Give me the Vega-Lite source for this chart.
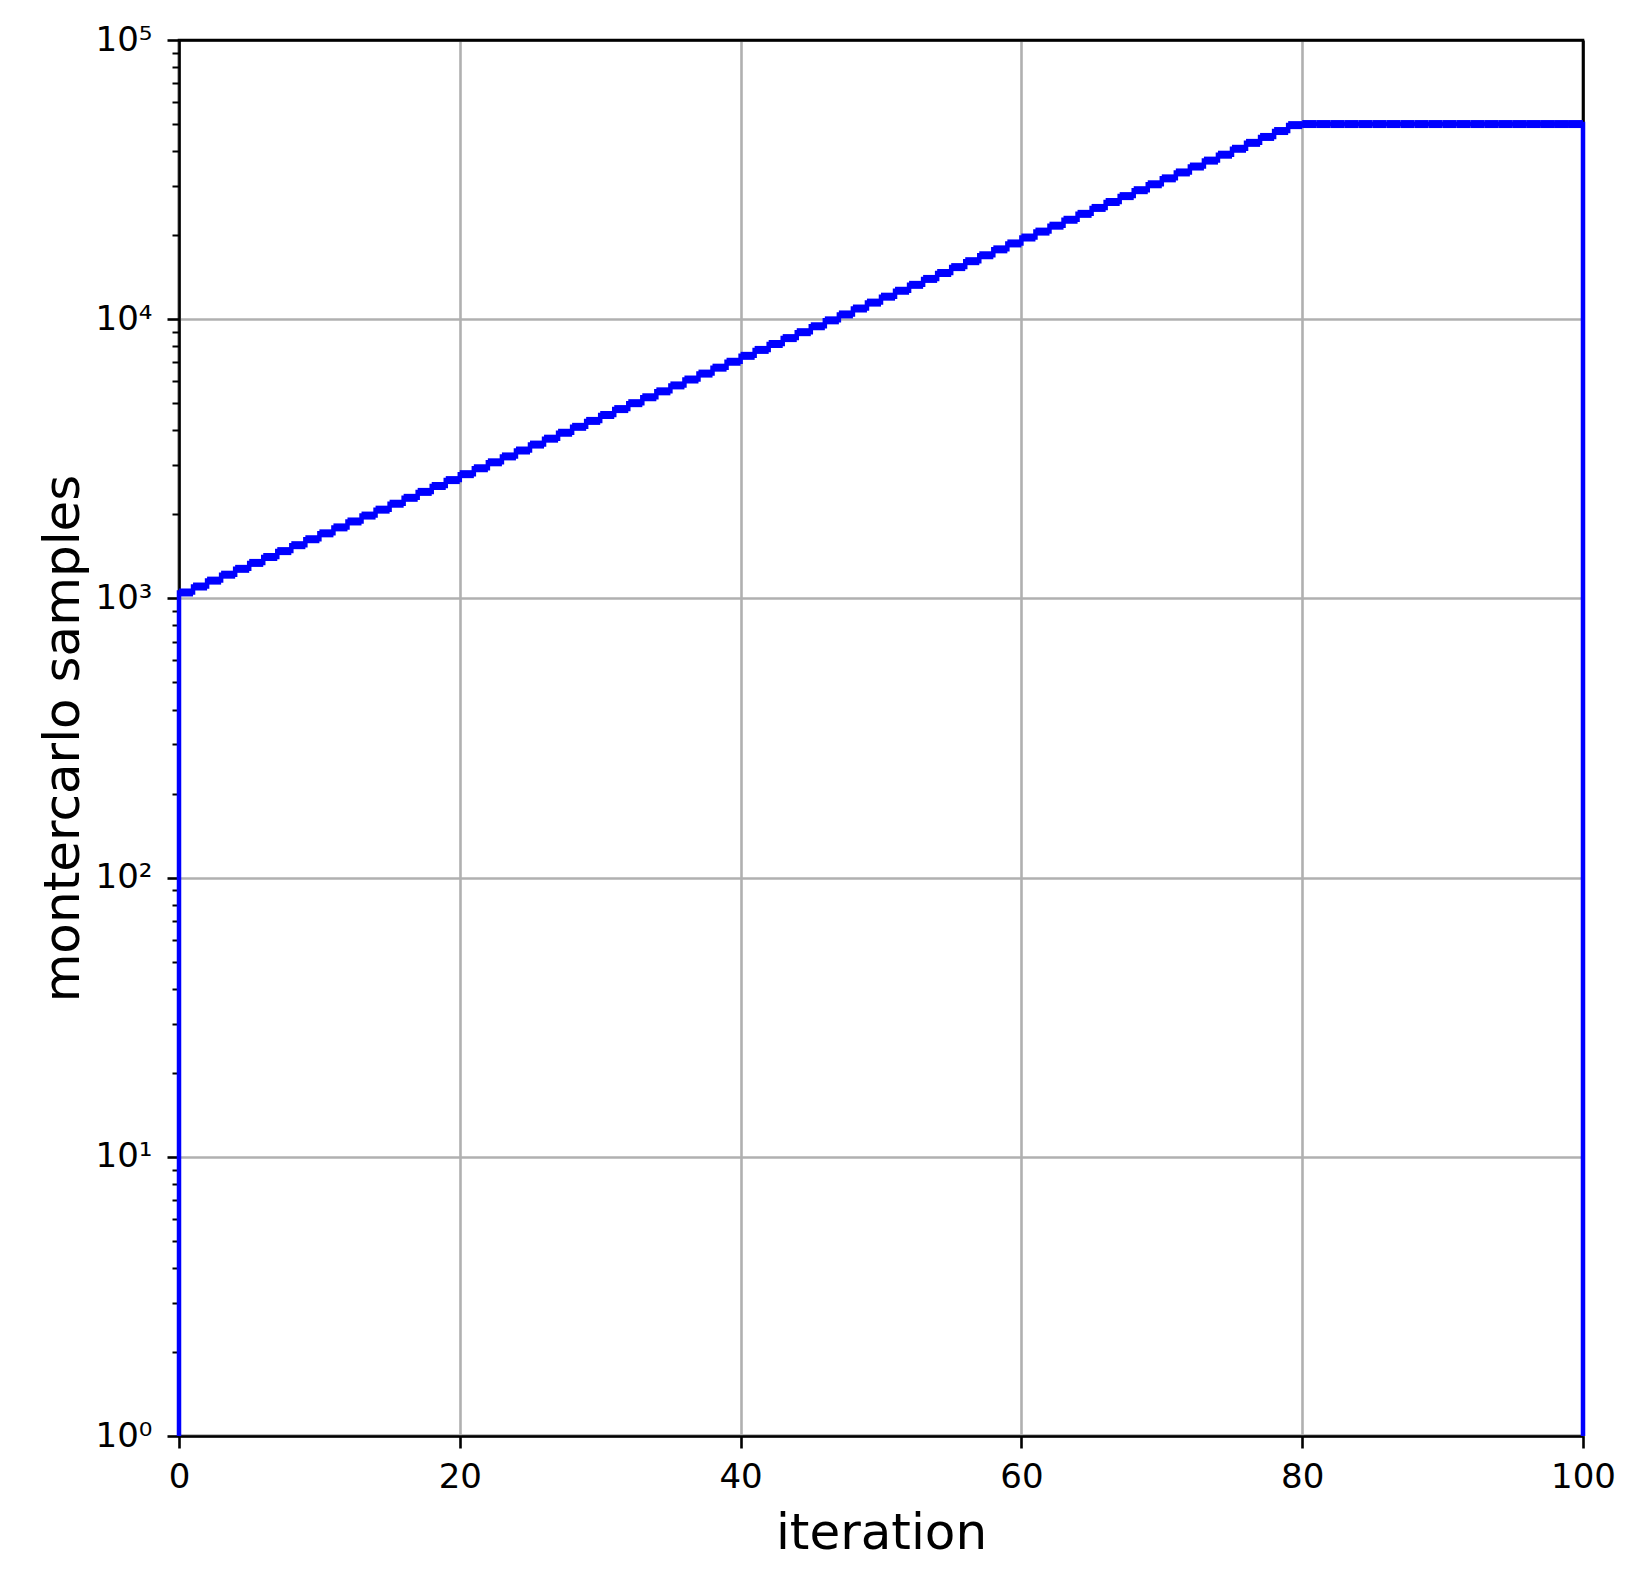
{
  "$schema": "https://vega.github.io/schema/vega-lite/v6.json",
  "width": 1404,
  "height": 1396,
  "autosize": {"type": "none"},
  "padding": {"left": 179, "top": 40, "right": 61, "bottom": 149},
  "background": "white",
  "config": {
    "font": "DejaVu Sans",
    "view": {"stroke": "black", "strokeWidth": 2.6},
    "axis": {
      "labelFont": "DejaVu Sans",
      "titleFont": "DejaVu Sans",
      "labelColor": "black",
      "titleColor": "black",
      "domainColor": "black",
      "domainWidth": 2.6,
      "tickColor": "black",
      "gridWidth": 2.6,
      "gridOpacity": 1,
      "titleFontWeight": "normal"
    }
  },
  "datasets": {
    "bins": [
      {"i": 0, "end": 1, "v": 1050}, {"i": 1, "end": 2, "v": 1103}, {"i": 2, "end": 3, "v": 1158}, {"i": 3, "end": 4, "v": 1216},
      {"i": 4, "end": 5, "v": 1276}, {"i": 5, "end": 6, "v": 1340}, {"i": 6, "end": 7, "v": 1407}, {"i": 7, "end": 8, "v": 1477},
      {"i": 8, "end": 9, "v": 1551}, {"i": 9, "end": 10, "v": 1629}, {"i": 10, "end": 11, "v": 1710}, {"i": 11, "end": 12, "v": 1796},
      {"i": 12, "end": 13, "v": 1886}, {"i": 13, "end": 14, "v": 1980}, {"i": 14, "end": 15, "v": 2079}, {"i": 15, "end": 16, "v": 2183},
      {"i": 16, "end": 17, "v": 2292}, {"i": 17, "end": 18, "v": 2407}, {"i": 18, "end": 19, "v": 2527}, {"i": 19, "end": 20, "v": 2653},
      {"i": 20, "end": 21, "v": 2786}, {"i": 21, "end": 22, "v": 2925}, {"i": 22, "end": 23, "v": 3072}, {"i": 23, "end": 24, "v": 3225},
      {"i": 24, "end": 25, "v": 3386}, {"i": 25, "end": 26, "v": 3556}, {"i": 26, "end": 27, "v": 3733}, {"i": 27, "end": 28, "v": 3920},
      {"i": 28, "end": 29, "v": 4116}, {"i": 29, "end": 30, "v": 4322}, {"i": 30, "end": 31, "v": 4538}, {"i": 31, "end": 32, "v": 4765},
      {"i": 32, "end": 33, "v": 5003}, {"i": 33, "end": 34, "v": 5253}, {"i": 34, "end": 35, "v": 5516}, {"i": 35, "end": 36, "v": 5792},
      {"i": 36, "end": 37, "v": 6081}, {"i": 37, "end": 38, "v": 6385}, {"i": 38, "end": 39, "v": 6705}, {"i": 39, "end": 40, "v": 7040},
      {"i": 40, "end": 41, "v": 7392}, {"i": 41, "end": 42, "v": 7762}, {"i": 42, "end": 43, "v": 8150}, {"i": 43, "end": 44, "v": 8557},
      {"i": 44, "end": 45, "v": 8985}, {"i": 45, "end": 46, "v": 9434}, {"i": 46, "end": 47, "v": 9906}, {"i": 47, "end": 48, "v": 10401},
      {"i": 48, "end": 49, "v": 10921}, {"i": 49, "end": 50, "v": 11467}, {"i": 50, "end": 51, "v": 12041}, {"i": 51, "end": 52, "v": 12643},
      {"i": 52, "end": 53, "v": 13275}, {"i": 53, "end": 54, "v": 13939}, {"i": 54, "end": 55, "v": 14636}, {"i": 55, "end": 56, "v": 15367},
      {"i": 56, "end": 57, "v": 16136}, {"i": 57, "end": 58, "v": 16943}, {"i": 58, "end": 59, "v": 17790}, {"i": 59, "end": 60, "v": 18679},
      {"i": 60, "end": 61, "v": 19613}, {"i": 61, "end": 62, "v": 20594}, {"i": 62, "end": 63, "v": 21623}, {"i": 63, "end": 64, "v": 22705},
      {"i": 64, "end": 65, "v": 23840}, {"i": 65, "end": 66, "v": 25032}, {"i": 66, "end": 67, "v": 26283}, {"i": 67, "end": 68, "v": 27598},
      {"i": 68, "end": 69, "v": 28978}, {"i": 69, "end": 70, "v": 30426}, {"i": 70, "end": 71, "v": 31948}, {"i": 71, "end": 72, "v": 33545},
      {"i": 72, "end": 73, "v": 35222}, {"i": 73, "end": 74, "v": 36984}, {"i": 74, "end": 75, "v": 38833}, {"i": 75, "end": 76, "v": 40774},
      {"i": 76, "end": 77, "v": 42813}, {"i": 77, "end": 78, "v": 44954}, {"i": 78, "end": 79, "v": 47201}, {"i": 79, "end": 80, "v": 49561},
      {"i": 80, "end": 81, "v": 50000}, {"i": 81, "end": 82, "v": 50000}, {"i": 82, "end": 83, "v": 50000}, {"i": 83, "end": 84, "v": 50000},
      {"i": 84, "end": 85, "v": 50000}, {"i": 85, "end": 86, "v": 50000}, {"i": 86, "end": 87, "v": 50000}, {"i": 87, "end": 88, "v": 50000},
      {"i": 88, "end": 89, "v": 50000}, {"i": 89, "end": 90, "v": 50000}, {"i": 90, "end": 91, "v": 50000}, {"i": 91, "end": 92, "v": 50000},
      {"i": 92, "end": 93, "v": 50000}, {"i": 93, "end": 94, "v": 50000}, {"i": 94, "end": 95, "v": 50000}, {"i": 95, "end": 96, "v": 50000},
      {"i": 96, "end": 97, "v": 50000}, {"i": 97, "end": 98, "v": 50000}, {"i": 98, "end": 99, "v": 50000}, {"i": 99, "end": 100, "v": 50000}
    ],
    "path": [
      {"k": 0, "x": 0, "y": 1},
      {"k": 1, "x": 0, "y": 1050}, {"k": 2, "x": 1, "y": 1103}, {"k": 3, "x": 2, "y": 1158}, {"k": 4, "x": 3, "y": 1216},
      {"k": 5, "x": 4, "y": 1276}, {"k": 6, "x": 5, "y": 1340}, {"k": 7, "x": 6, "y": 1407}, {"k": 8, "x": 7, "y": 1477},
      {"k": 9, "x": 8, "y": 1551}, {"k": 10, "x": 9, "y": 1629}, {"k": 11, "x": 10, "y": 1710}, {"k": 12, "x": 11, "y": 1796},
      {"k": 13, "x": 12, "y": 1886}, {"k": 14, "x": 13, "y": 1980}, {"k": 15, "x": 14, "y": 2079}, {"k": 16, "x": 15, "y": 2183},
      {"k": 17, "x": 16, "y": 2292}, {"k": 18, "x": 17, "y": 2407}, {"k": 19, "x": 18, "y": 2527}, {"k": 20, "x": 19, "y": 2653},
      {"k": 21, "x": 20, "y": 2786}, {"k": 22, "x": 21, "y": 2925}, {"k": 23, "x": 22, "y": 3072}, {"k": 24, "x": 23, "y": 3225},
      {"k": 25, "x": 24, "y": 3386}, {"k": 26, "x": 25, "y": 3556}, {"k": 27, "x": 26, "y": 3733}, {"k": 28, "x": 27, "y": 3920},
      {"k": 29, "x": 28, "y": 4116}, {"k": 30, "x": 29, "y": 4322}, {"k": 31, "x": 30, "y": 4538}, {"k": 32, "x": 31, "y": 4765},
      {"k": 33, "x": 32, "y": 5003}, {"k": 34, "x": 33, "y": 5253}, {"k": 35, "x": 34, "y": 5516}, {"k": 36, "x": 35, "y": 5792},
      {"k": 37, "x": 36, "y": 6081}, {"k": 38, "x": 37, "y": 6385}, {"k": 39, "x": 38, "y": 6705}, {"k": 40, "x": 39, "y": 7040},
      {"k": 41, "x": 40, "y": 7392}, {"k": 42, "x": 41, "y": 7762}, {"k": 43, "x": 42, "y": 8150}, {"k": 44, "x": 43, "y": 8557},
      {"k": 45, "x": 44, "y": 8985}, {"k": 46, "x": 45, "y": 9434}, {"k": 47, "x": 46, "y": 9906}, {"k": 48, "x": 47, "y": 10401},
      {"k": 49, "x": 48, "y": 10921}, {"k": 50, "x": 49, "y": 11467}, {"k": 51, "x": 50, "y": 12041}, {"k": 52, "x": 51, "y": 12643},
      {"k": 53, "x": 52, "y": 13275}, {"k": 54, "x": 53, "y": 13939}, {"k": 55, "x": 54, "y": 14636}, {"k": 56, "x": 55, "y": 15367},
      {"k": 57, "x": 56, "y": 16136}, {"k": 58, "x": 57, "y": 16943}, {"k": 59, "x": 58, "y": 17790}, {"k": 60, "x": 59, "y": 18679},
      {"k": 61, "x": 60, "y": 19613}, {"k": 62, "x": 61, "y": 20594}, {"k": 63, "x": 62, "y": 21623}, {"k": 64, "x": 63, "y": 22705},
      {"k": 65, "x": 64, "y": 23840}, {"k": 66, "x": 65, "y": 25032}, {"k": 67, "x": 66, "y": 26283}, {"k": 68, "x": 67, "y": 27598},
      {"k": 69, "x": 68, "y": 28978}, {"k": 70, "x": 69, "y": 30426}, {"k": 71, "x": 70, "y": 31948}, {"k": 72, "x": 71, "y": 33545},
      {"k": 73, "x": 72, "y": 35222}, {"k": 74, "x": 73, "y": 36984}, {"k": 75, "x": 74, "y": 38833}, {"k": 76, "x": 75, "y": 40774},
      {"k": 77, "x": 76, "y": 42813}, {"k": 78, "x": 77, "y": 44954}, {"k": 79, "x": 78, "y": 47201}, {"k": 80, "x": 79, "y": 49561},
      {"k": 81, "x": 80, "y": 50000}, {"k": 82, "x": 81, "y": 50000}, {"k": 83, "x": 82, "y": 50000}, {"k": 84, "x": 83, "y": 50000},
      {"k": 85, "x": 84, "y": 50000}, {"k": 86, "x": 85, "y": 50000}, {"k": 87, "x": 86, "y": 50000}, {"k": 88, "x": 87, "y": 50000},
      {"k": 89, "x": 88, "y": 50000}, {"k": 90, "x": 89, "y": 50000}, {"k": 91, "x": 90, "y": 50000}, {"k": 92, "x": 91, "y": 50000},
      {"k": 93, "x": 92, "y": 50000}, {"k": 94, "x": 93, "y": 50000}, {"k": 95, "x": 94, "y": 50000}, {"k": 96, "x": 95, "y": 50000},
      {"k": 97, "x": 96, "y": 50000}, {"k": 98, "x": 97, "y": 50000}, {"k": 99, "x": 98, "y": 50000}, {"k": 100, "x": 99, "y": 50000},
      {"k": 101, "x": 100, "y": 50000},
      {"k": 102, "x": 100, "y": 1}
    ]
  },
  "layer": [
    {
      "data": {"name": "path"},
      "mark": {"type": "line", "interpolate": "step-after", "color": "#0000ff", "strokeWidth": 4.5, "strokeCap": "butt", "strokeJoin": "miter", "clip": false},
      "encoding": {
        "x": {"field": "x", "type": "quantitative", "scale": {"domain": [0, 100], "nice": false, "zero": false},
          "axis": {"values": [0, 20, 40, 60, 80, 100], "grid": true, "tickSize": 12, "tickWidth": 2.6, "labelFontSize": 34, "labelPadding": 12,
            "gridColor": {"condition": {"test": "datum.value == 100", "value": "black"}, "value": "#b0b0b0"},
            "title": "iteration", "titleFontSize": 50, "titleBaseline": "alphabetic", "titleY": 112, "labelFlush": false}},
        "y": {"field": "y", "type": "quantitative", "scale": {"type": "log", "domain": [1, 100000], "nice": false},
          "axis": {"orient": "left", "values": [1, 10, 100, 1000, 10000, 100000], "grid": true, "tickSize": 12, "tickWidth": 2.6,
            "gridColor": {"condition": {"test": "datum.value == 100000", "value": "black"}, "value": "#b0b0b0"},
            "labelFontSize": 34, "labelPadding": 15, "labelFlush": false,
            "labelExpr": "'10' + ['\u2070','\u00b9','\u00b2','\u00b3','\u2074','\u2075'][round(log(datum.value)/LN10)]",
            "title": "montercarlo samples", "titleFontSize": 50, "titleAngle": -90, "titleBaseline": "alphabetic", "titleX": -101, "titleAlign": "center"}},
        "order": {"field": "k", "type": "quantitative"}
      }
    },
    {
      "data": {"name": "bins"},
      "mark": {"type": "rule", "color": "#0000ff", "strokeWidth": 8, "strokeCap": "butt"},
      "encoding": {
        "x": {"field": "i", "type": "quantitative"},
        "x2": {"field": "end"},
        "y": {"field": "v", "type": "quantitative",
          "axis": {"orient": "left", "values": [2,3,4,5,6,7,8,9,20,30,40,50,60,70,80,90,200,300,400,500,600,700,800,900,2000,3000,4000,5000,6000,7000,8000,9000,20000,30000,40000,50000,60000,70000,80000,90000],
            "grid": false, "labels": false, "domain": false, "tickSize": 7, "tickWidth": 2, "title": null}}
      }
    }
  ],
  "resolve": {"axis": {"y": "independent"}}
}
